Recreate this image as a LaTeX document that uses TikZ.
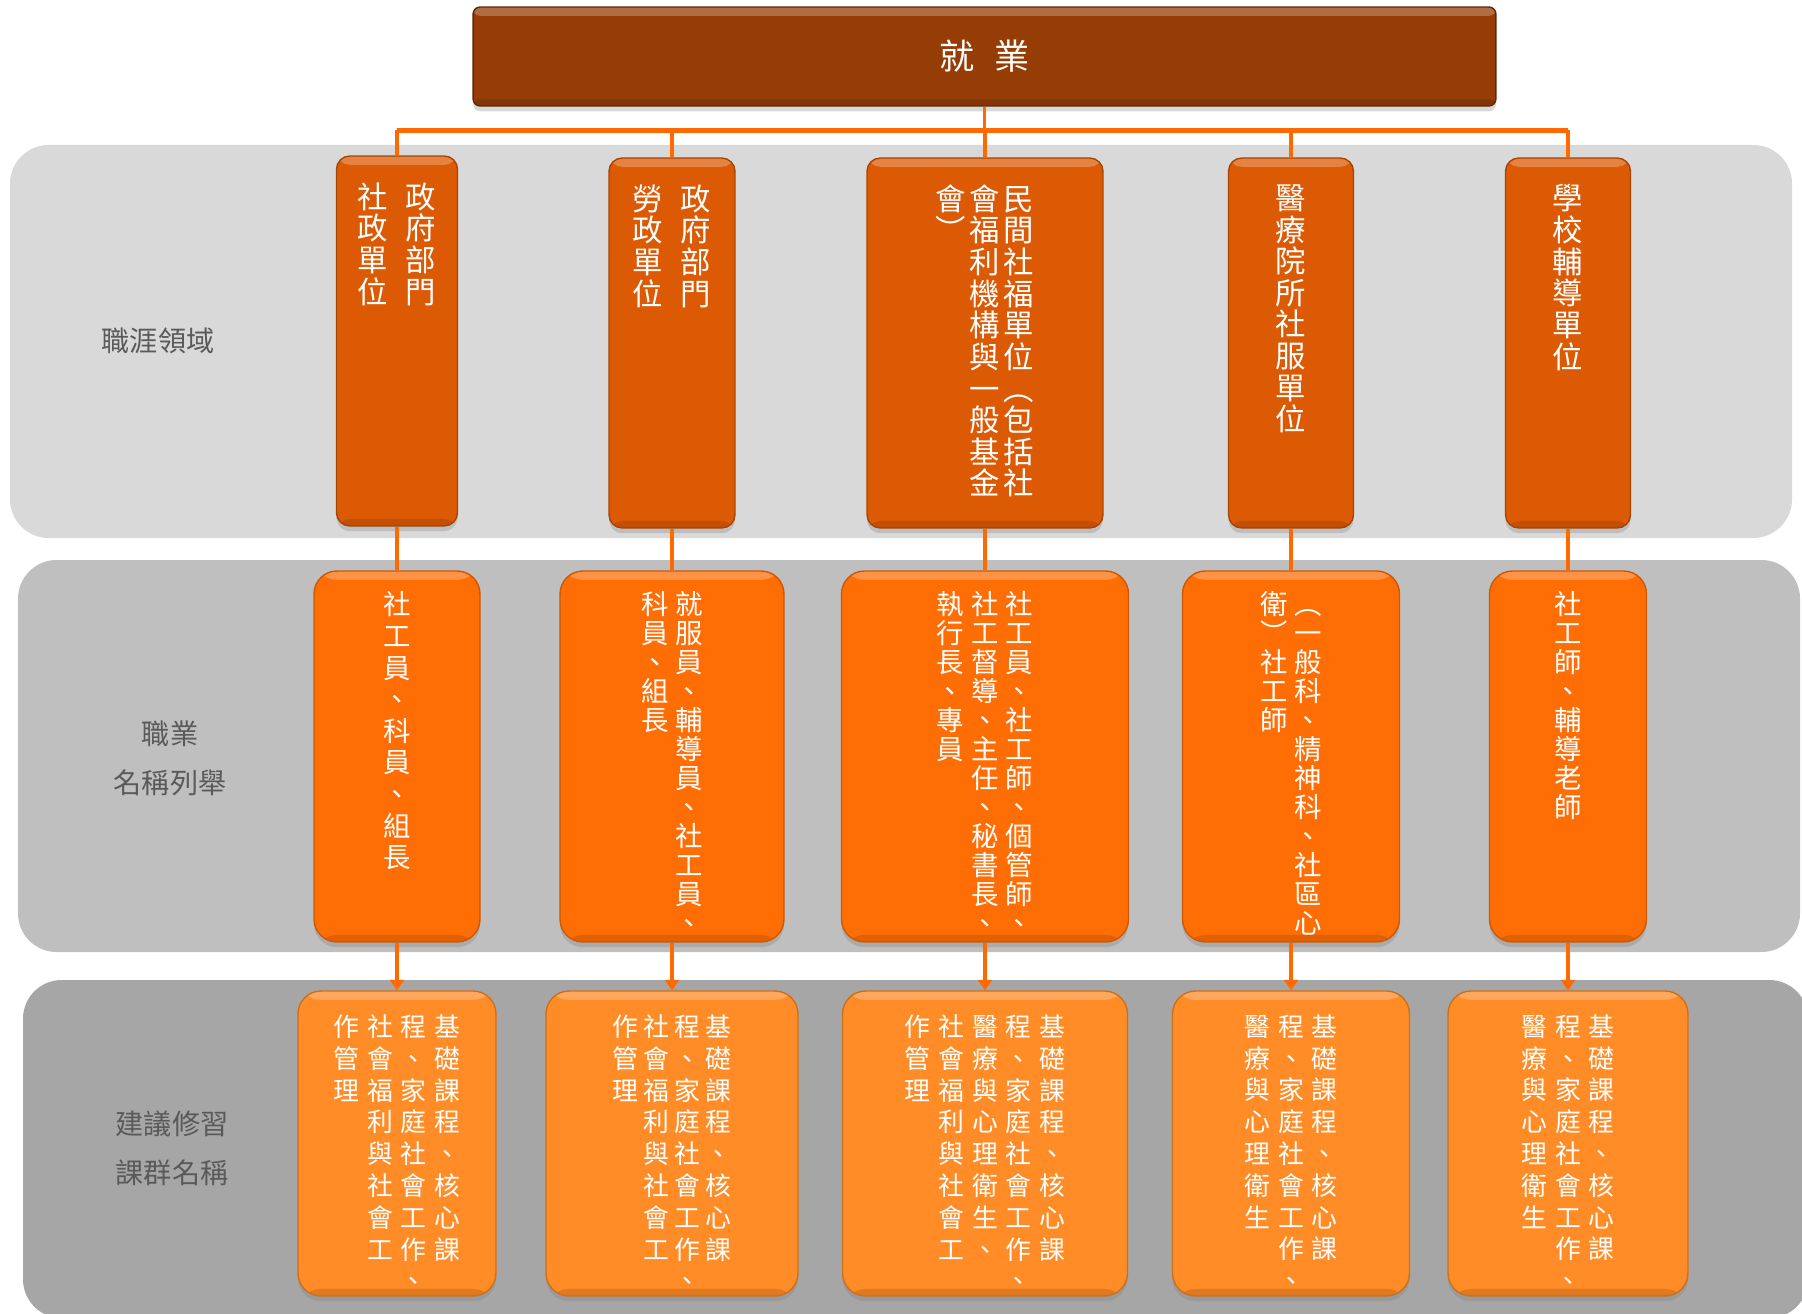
\documentclass[tikz,border=0pt]{standalone}
\usepackage{fontspec}
\setmainfont{Noto Sans CJK TC}
\usetikzlibrary{arrows.meta,positioning,shadows}

\definecolor{bandA}{HTML}{D9D9D9}
\definecolor{bandB}{HTML}{BFBFBF}
\definecolor{bandC}{HTML}{A6A6A6}
\definecolor{topfill}{HTML}{963D05}
\definecolor{fieldfill}{HTML}{DD5A05}
\definecolor{jobfill}{HTML}{FF6E05}
\definecolor{coursefill}{HTML}{FF8C26}
\definecolor{linkcol}{HTML}{FF6A00}
\definecolor{labelcol}{HTML}{5A5A5A}

% vertical text: one column, characters stacked top to bottom
\newdimen\vpitch
\newdimen\vcolsep
\newcommand\vcol[1]{\vtop{\baselineskip=\vpitch\lineskiplimit=-\maxdimen\lineskip=0pt\relax\vcolloop#1\relax}}
\def\vcolloop#1{\ifx\relax#1\else\hbox to 1em{\hss#1\hss}\expandafter\vcolloop\fi}
\newcommand\vgap{\hskip\vcolsep}
\newcommand\setvtext[2]{\global\vpitch=#1\relax\global\vcolsep=#2\relax}

\tikzset{
  glossbox/.style={draw, line width=0.8pt, inner sep=0pt,
    drop shadow={shadow xshift=0pt, shadow yshift=-3pt, opacity=0.3},
    path picture={
      \fill[white, opacity=0.25] (path picture bounding box.north west) rectangle ([yshift=-5pt]path picture bounding box.north east);
      \fill[black, opacity=0.12] (path picture bounding box.south west) rectangle ([yshift=4pt]path picture bounding box.south east);
    }},
  topbox/.style={glossbox, fill=topfill, draw=black!35!topfill, rounded corners=4pt,
    minimum width=20.46cm, minimum height=1.98cm, text=white,
    font=\fontsize{20pt}{20pt}\selectfont},
  fieldbox/.style={glossbox, fill=fieldfill, draw=black!25!fieldfill, rounded corners=7.5pt, minimum height=7.4cm},
  jobbox/.style={glossbox, fill=jobfill, draw=black!20!jobfill, rounded corners=13pt, minimum height=7.42cm},
  coursebox/.style={glossbox, fill=coursefill, draw=black!20!coursefill, rounded corners=13pt, minimum height=6.1cm},
  boxtext/.style={text=white, inner sep=0pt, anchor=north},
  fieldtext/.style={boxtext, font=\fontsize{17.3pt}{18pt}\selectfont},
  jobtext/.style={boxtext, font=\fontsize{15.6pt}{16.5pt}\selectfont},
  coursetext/.style={boxtext, font=\fontsize{14.7pt}{18pt}\selectfont},
  rowlabel/.style={text=labelcol, align=center, font=\fontsize{16pt}{27.8pt}\selectfont},
  link/.style={draw=linkcol, line width=2.2pt},
  band/.style={rounded corners=22pt}
}

\begin{document}
\begin{tikzpicture}[x=0.02cm, y=-0.02cm]
\useasboundingbox (0,0) rectangle (1802,1314);

% bands
\fill[bandA, band] (10,145) rectangle (1792,538);
\fill[bandB, band] (18,560) rectangle (1800,952);
\fill[bandC, band] (23,980) rectangle (1808,1318);

\node[rowlabel] (lab1) at (158,341) {職涯領域};
\node[rowlabel] (lab2) at (170,758) {職業\\名稱列舉};
\node[rowlabel] (lab3) at (172,1148) {建議修習\\課群名稱};

% top
\node[topbox] (job) at (984.5,56.5) {就\hskip11pt 業};

% row 1: fields
\node[fieldbox, minimum width=2.42cm] (f1) at (397,341) {};
\node[fieldbox, minimum width=2.52cm] (f2) at (672,343) {};
\node[fieldbox, minimum width=4.72cm] (f3) at (985,343) {};
\node[fieldbox, minimum width=2.50cm] (f4) at (1291,343) {};
\node[fieldbox, minimum width=2.50cm] (f5) at (1568,343) {};
\setvtext{18pt}{2pt}
\node[fieldtext] (f1t) at ([yshift=-0.54cm]f1.north) {\vcol{社政單位}\hskip10pt\vcol{政府部門}};
\node[fieldtext] (f2t) at ([yshift=-0.54cm]f2.north) {\vcol{勞政單位}\hskip10pt\vcol{政府部門}};
\node[fieldtext] (f3t) at ([yshift=-0.54cm]f3.north) {\vcol{會︶}\vgap\vcol{會福利機構與一般基金}\vgap\vcol{民間社福單位︵包括社}};
\node[fieldtext] (f4t) at ([yshift=-0.54cm]f4.north) {\vcol{醫療院所社服單位}};
\node[fieldtext] (f5t) at ([yshift=-0.54cm]f5.north) {\vcol{學校輔導單位}};

% row 2: jobs
\node[jobbox, minimum width=3.32cm] (j1) at (397,756.5) {};
\node[jobbox, minimum width=4.48cm] (j2) at (672,756.5) {};
\node[jobbox, minimum width=5.74cm] (j3) at (985,756.5) {};
\node[jobbox, minimum width=4.34cm] (j4) at (1291,756.5) {};
\node[jobbox, minimum width=3.14cm] (j5) at (1568,756.5) {};
\setvtext{18pt}{4pt}
\node[jobtext] (j1t) at ([yshift=-0.42cm]j1.north) {\vcol{社工員、科員、組長}};
\setvtext{16.5pt}{4pt}
\node[jobtext] (j2t) at ([yshift=-0.42cm]j2.north) {\vcol{科員、組長}\vgap\vcol{就服員、輔導員、社工員、}};
\node[jobtext] (j3t) at ([yshift=-0.42cm]j3.north) {\vcol{執行長、專員}\vgap\vcol{社工督導、主任、秘書長、}\vgap\vcol{社工員、社工師、個管師、}};
\node[jobtext] (j4t) at ([yshift=-0.42cm]j4.north) {\vcol{衛︶社工師}\vgap\vcol{︵一般科、精神科、社區心}};
\node[jobtext] (j5t) at ([yshift=-0.42cm]j5.north) {\vcol{社工師、輔導老師}};

% row 3: courses
\node[coursebox, minimum width=3.96cm] (c1) at (397,1143.5) {};
\node[coursebox, minimum width=5.04cm] (c2) at (672,1143.5) {};
\node[coursebox, minimum width=5.70cm] (c3) at (985,1143.5) {};
\node[coursebox, minimum width=4.74cm] (c4) at (1291,1143.5) {};
\node[coursebox, minimum width=4.80cm] (c5) at (1568,1143.5) {};
\setvtext{18.1pt}{4.5pt}
\node[coursetext] (c1t) at ([yshift=-0.48cm]c1.north) {\vcol{作管理}\vgap\vcol{社會福利與社會工}\vgap\vcol{程、家庭社會工作、}\vgap\vcol{基礎課程、核心課}};
\node[coursetext] (c2t) at ([yshift=-0.48cm]c2.north) {\vcol{作管理}\hskip3pt\vcol{社會福利與社會工}\hskip3pt\vcol{程、家庭社會工作、}\hskip3pt\vcol{基礎課程、核心課}};
\node[coursetext] (c3t) at ([yshift=-0.48cm]c3.north) {\vcol{作管理}\vgap\vcol{社會福利與社會工}\vgap\vcol{醫療與心理衛生、}\vgap\vcol{程、家庭社會工作、}\vgap\vcol{基礎課程、核心課}};
\node[coursetext] (c4t) at ([yshift=-0.48cm]c4.north) {\vcol{醫療與心理衛生}\vgap\vcol{程、家庭社會工作、}\vgap\vcol{基礎課程、核心課}};
\node[coursetext] (c5t) at ([yshift=-0.48cm]c5.north) {\vcol{醫療與心理衛生}\vgap\vcol{程、家庭社會工作、}\vgap\vcol{基礎課程、核心課}};

% connectors
\coordinate (bus) at (985,130.5);
\draw[link] (job.south) -- (job.south |- bus);
\draw[link, line width=3pt] (bus -| f1.north) -- (bus -| f5.north);
\foreach \i in {1,...,5} {
  \draw[link] (bus -| f\i.north) -- (f\i.north);
  \draw[link] (f\i.south) -- (j\i.north);
  \draw[link, -{Triangle[width=8pt, length=6pt]}] (j\i.south) -- (c\i.north);
}
\end{tikzpicture}
\end{document}
